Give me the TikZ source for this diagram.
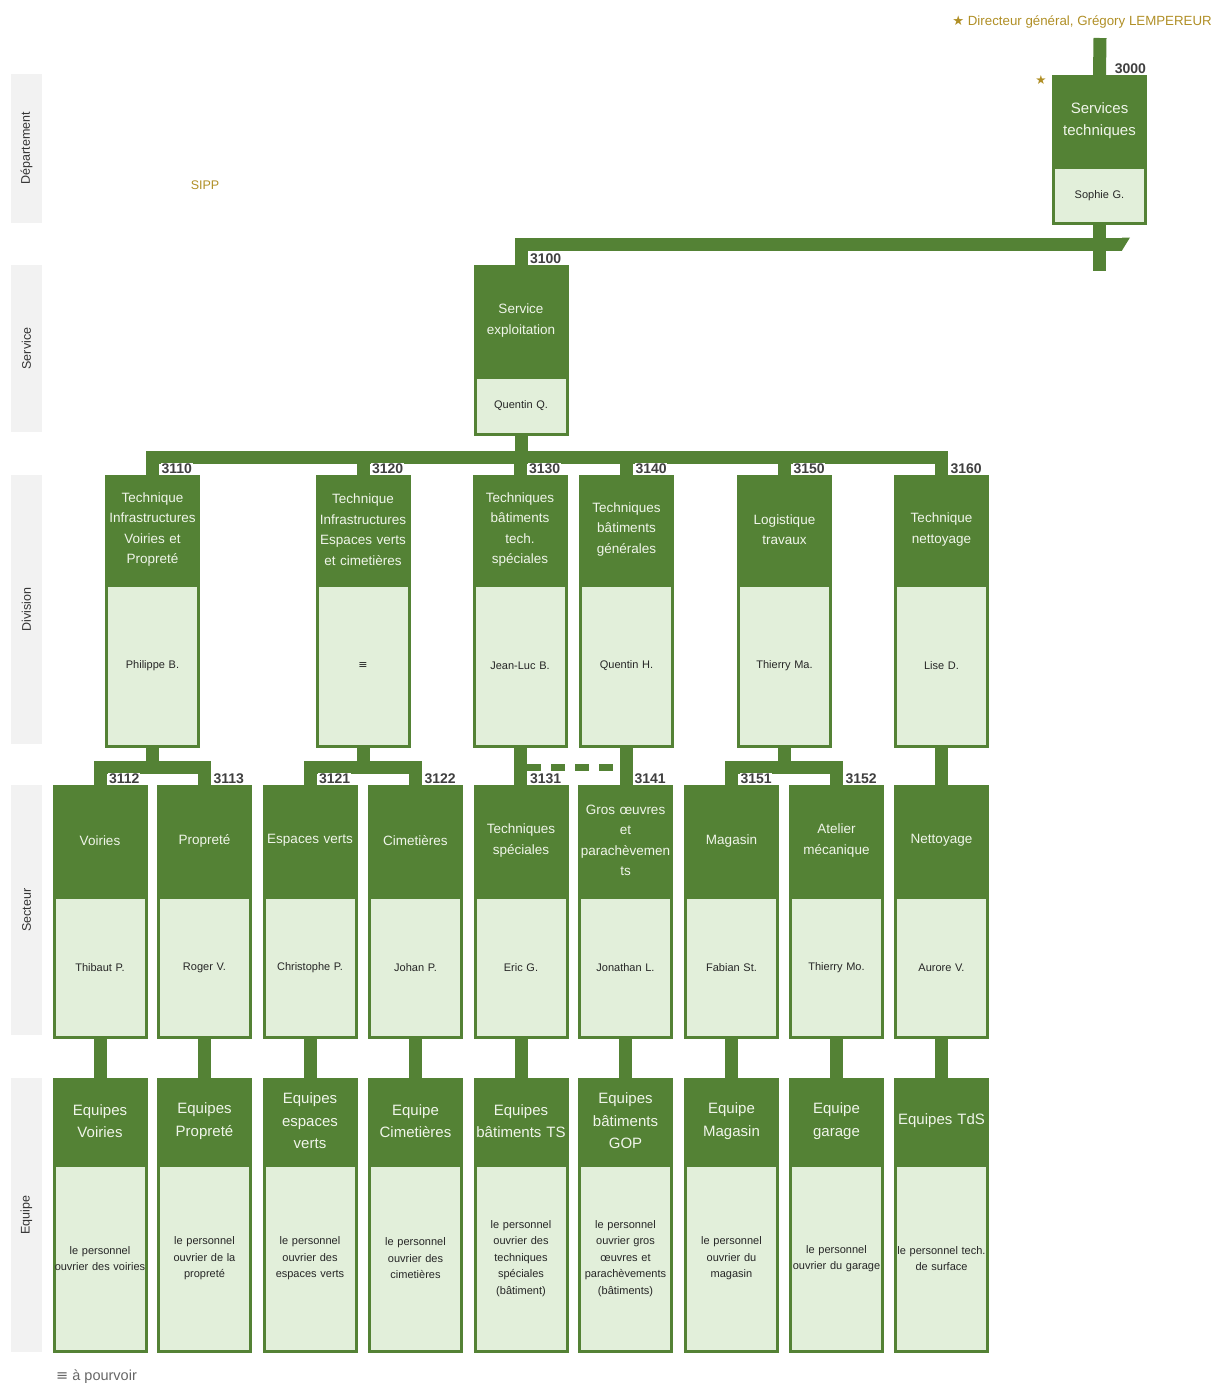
\documentclass[tikz,border=0pt]{standalone}
\usepackage{fontspec}
\setmainfont{Liberation Sans}
\newfontfamily\symfont{DejaVu Sans}
\usetikzlibrary{calc}
\definecolor{dkgreen}{HTML}{548235}
\definecolor{ltgreen}{HTML}{E2EFDA}
\definecolor{bandgray}{HTML}{F2F2F2}
\definecolor{goldtxt}{HTML}{B08F26}
\definecolor{numgray}{HTML}{3F3F3F}
\definecolor{headtxt}{HTML}{F0F5EA}
\newcommand\orgbox[8]{%
  \node[head,#6,minimum height=#4pt] (#1h) at (#2,#3) {#7};
  \node[body,minimum height=#5pt] (#1b) at (#1h.south) {#8};}
\begin{document}
\begin{tikzpicture}[x=1pt,y=-1pt,
  head/.style={fill=dkgreen, draw=dkgreen, line width=1pt, minimum width=94pt,
    text width=92pt, align=center, inner sep=0pt, text=headtxt, anchor=north},
  hfont/.style={font=\fontsize{13.5}{20.5}\selectfont},
  bigfont/.style={font=\fontsize{15}{22.5}\selectfont},
  body/.style={fill=ltgreen, draw=dkgreen, line width=3pt, minimum width=92pt,
    text width=92pt, align=center, inner sep=0pt, anchor=north,
    font=\fontsize{11}{16.5}\selectfont, text=black!85},
  conn/.style={draw=dkgreen, line width=13pt, line join=miter},
  dconn/.style={draw=dkgreen, line width=7pt, dash pattern=on 14pt off 10pt},
  num/.style={font=\bfseries\fontsize{14}{14}\selectfont, text=numgray, fill=white, inner sep=0.8pt, anchor=south west},
  band/.style={fill=bandgray, rotate=90, minimum height=31pt, inner sep=0pt,
    font=\fontsize{12.5}{13}\selectfont, text=black!80},
  goldlbl/.style={text=goldtxt, inner sep=0pt}
]
\path[use as bounding box] (0,0) rectangle (1215,1385);

% level bands
\node[band, minimum width=149pt] (bandDep) at (26.5,148) {Département};
\node[band, minimum width=167pt] (bandSer) at (26.5,348.5) {Service};
\node[band, minimum width=269pt] (bandDiv) at (26.5,609.5) {Division};
\node[band, minimum width=250pt] (bandSec) at (26.5,910) {Secteur};
\node[band, minimum width=274pt] (bandEq) at (26.5,1215) {Equipe};

% top texts
\node[goldlbl, anchor=east, font=\fontsize{13.3}{15}\selectfont] (dg) at (1212,22) {{\symfont ★} Directeur général, Grégory LEMPEREUR};
\node[goldlbl, font=\fontsize{12.5}{14}\selectfont] (sipp) at (205,185) {SIPP};
\node[goldlbl, font=\fontsize{12.5}{14}\selectfont] (star) at (1041,80) {\symfont ★};

% boxes
\orgbox{st}{1099.5}{75}{90}{56}{bigfont}{Services\\techniques}{Sophie G.}
\orgbox{se}{521}{265}{110}{57}{hfont}{Service\\exploitation}{Quentin Q.}

\orgbox{da}{152.5}{475}{108}{161}{hfont}{Technique\\Infrastructures\\Voiries et\\Propreté}{Philippe B.}
\orgbox{db}{363}{475}{108}{161}{hfont}{Technique\\Infrastructures\\Espaces verts\\et cimetières}{{\symfont ≡}}
\orgbox{dc}{520}{475}{108}{161}{hfont}{Techniques\\bâtiments\\tech.\\spéciales}{Jean-Luc B.}
\orgbox{dd}{626.5}{475}{108}{161}{hfont}{Techniques\\bâtiments\\générales}{Quentin H.}
\orgbox{de}{784.5}{475}{108}{161}{hfont}{Logistique\\travaux}{Thierry Ma.}
\orgbox{df}{941.5}{475}{108}{161}{hfont}{Technique\\nettoyage}{Lise D.}

\orgbox{sa}{100}{785}{110}{140}{hfont}{Voiries}{Thibaut P.}
\orgbox{sb}{204.5}{785}{110}{140}{hfont}{Propreté}{Roger V.}
\orgbox{sc}{310}{785}{110}{140}{hfont}{Espaces verts}{Christophe P.}
\orgbox{sd}{415.5}{785}{110}{140}{hfont}{Cimetières}{Johan P.}
\orgbox{se2}{521}{785}{110}{140}{hfont}{Techniques\\spéciales}{Eric G.}
\orgbox{sf}{625.5}{785}{110}{140}{hfont}{Gros œuvres\\et\\parachèvemen\\ts}{Jonathan L.}
\orgbox{sg}{731.5}{785}{110}{140}{hfont}{Magasin}{Fabian St.}
\orgbox{sh}{836.5}{785}{110}{140}{hfont}{Atelier\\mécanique}{Thierry Mo.}
\orgbox{si}{941.5}{785}{110}{140}{hfont}{Nettoyage}{Aurore V.}

\orgbox{ea}{100}{1078}{85}{186}{bigfont}{Equipes\\Voiries}{le personnel\\ouvrier des voiries}
\orgbox{eb}{204.5}{1078}{85}{186}{bigfont}{Equipes\\Propreté}{le personnel\\ouvrier de la\\propreté}
\orgbox{ec}{310}{1078}{85}{186}{bigfont}{Equipes\\espaces\\verts}{le personnel\\ouvrier des\\espaces verts}
\orgbox{ed}{415.5}{1078}{85}{186}{bigfont}{Equipe\\Cimetières}{le personnel\\ouvrier des\\cimetières}
\orgbox{ee}{521}{1078}{85}{186}{bigfont}{Equipes\\bâtiments TS}{le personnel\\ouvrier des\\techniques\\spéciales\\(bâtiment)}
\orgbox{ef}{625.5}{1078}{85}{186}{bigfont}{Equipes\\bâtiments\\GOP}{le personnel\\ouvrier gros\\œuvres et\\parachèvements\\(bâtiments)}
\orgbox{eg}{731.5}{1078}{85}{186}{bigfont}{Equipe\\Magasin}{le personnel\\ouvrier du\\magasin\\[12pt]}
\orgbox{eh}{836.5}{1078}{85}{186}{bigfont}{Equipe\\garage}{le personnel\\ouvrier du garage\\[12pt]}
\orgbox{ei}{941.5}{1078}{85}{186}{bigfont}{Equipes TdS}{le personnel tech.\\de surface\\[12pt]}

% connectors
\coordinate (dgbar) at (1100,38);
\draw[conn] (dgbar) -- (sth.north);
\draw[conn] (stb.south) -- ++(0,46);
\coordinate (barend) at (1122,244);
\draw[conn] (seh.north) |- (barend);
\fill[dkgreen] (1122,237.5) -- (1130,237.5) -- (1122,250.5) -- cycle;

\foreach \d in {da,db,dc,dd,de,df}
  \draw[conn] (seb.south) -- ++(0,21) -| (\d h.north);

\draw[conn] (dab.south) -- ++(0,19) -| (sah.north);
\draw[conn] (dab.south) -- ++(0,19) -| (sbh.north);
\draw[conn] (dbb.south) -- ++(0,19) -| (sch.north);
\draw[conn] (dbb.south) -- ++(0,19) -| (sdh.north);
\draw[conn] (dcb.south) -- (dcb.south |- se2h.north);
\draw[conn] (ddb.south) -- (ddb.south |- sfh.north);
\draw[dconn] ($(dcb.south)+(7,19)$) -- ($(ddb.south)+(-7,19)$);
\draw[conn] (deb.south) -- ++(0,19) -| (sgh.north);
\draw[conn] (deb.south) -- ++(0,19) -| (shh.north);
\draw[conn] (dfb.south) -- (sih.north);

\foreach \s/\e in {sa/ea,sb/eb,sc/ec,sd/ed,se2/ee,sf/ef,sg/eg,sh/eh,si/ei}
  \draw[conn] (\s b.south) -- (\e h.north);

% numbers
\node[num, anchor=south east] (n3000) at (sth.north east) {3000};
\node[num] (n3100) at ($(seh.north)+(8,0)$) {3100};
\node[num] (n3110) at ($(dah.north)+(8,0)$) {3110};
\node[num] (n3120) at ($(dbh.north)+(8,0)$) {3120};
\node[num] (n3130) at ($(dch.north)+(8,0)$) {3130};
\node[num] (n3140) at ($(ddh.north)+(8,0)$) {3140};
\node[num] (n3150) at ($(deh.north)+(8,0)$) {3150};
\node[num] (n3160) at ($(dfh.north)+(8,0)$) {3160};
\node[num] (n3112) at ($(sah.north)+(8,0)$) {3112};
\node[num] (n3113) at ($(sbh.north)+(8,0)$) {3113};
\node[num] (n3121) at ($(sch.north)+(8,0)$) {3121};
\node[num] (n3122) at ($(sdh.north)+(8,0)$) {3122};
\node[num] (n3131) at ($(se2h.north)+(8,0)$) {3131};
\node[num] (n3141) at ($(sfh.north)+(8,0)$) {3141};
\node[num] (n3151) at ($(sgh.north)+(8,0)$) {3151};
\node[num] (n3152) at ($(shh.north)+(8,0)$) {3152};

% legend
\node[anchor=west, text=black!60, inner sep=0pt, font=\fontsize{14.5}{15}\selectfont] (legend) at (56,1377) {{\symfont ≡} à pourvoir};
\end{tikzpicture}
\end{document}
